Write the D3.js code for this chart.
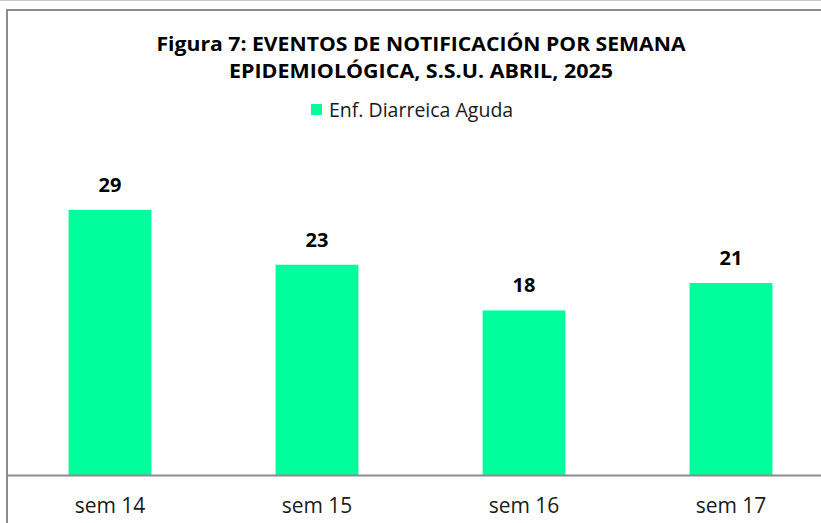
<!DOCTYPE html>
<html lang="es">
<head>
<meta charset="UTF-8">
<title>Figura 7</title>
<script src="https://d3js.org/d3.v7.min.js"></script>
<style>
  body { margin: 0; background: #fff; }
  svg { display: block; font-family: "Open Sans", Lato, sans-serif; }
</style>
</head>
<body>
<svg id="chart" width="821" height="523"></svg>
<script>
    const weeks = ["sem 14", "sem 15", "sem 16", "sem 17"];
    const cases = [29, 23, 18, 21];
    const seriesName = "Enf. Diarreica Aguda";
    const titleLines = ["Figura 7: EVENTOS DE NOTIFICACIÓN POR SEMANA", "EPIDEMIOLÓGICA, S.S.U. ABRIL, 2025"];

    const svg = d3.select("#chart");
    const barColor = "#00ff9c";

    // frame lines
    svg.append("line").attr("x1", 0).attr("x2", 821).attr("y1", 0.5).attr("y2", 0.5)
        .attr("stroke", "#c8c8c8").attr("stroke-width", 1);
    svg.append("path").attr("d", "M7,523V10H821")
        .attr("fill", "none").attr("stroke", "#8c8c8c").attr("stroke-width", 2);

    const x = d3.scaleBand().domain(weeks).range([6.5, 834.5])
        .paddingInner(0.6).paddingOuter(0.3);
    const y = d3.scaleLinear().domain([0, 35]).range([475, 155]);

    svg.selectAll("rect.bar")
        .data(cases)
        .join("rect")
        .attr("class", "bar")
        .attr("x", (d, i) => x(weeks[i]))
        .attr("width", x.bandwidth())
        .attr("y", d => y(d))
        .attr("height", d => y(0) - y(d))
        .attr("fill", barColor);

    svg.selectAll("text.val")
        .data(cases)
        .join("text")
        .attr("class", "val")
        .attr("x", (d, i) => x(weeks[i]) + x.bandwidth() / 2)
        .attr("y", d => y(d) - 18)
        .attr("text-anchor", "middle")
        .attr("font-size", 20)
        .attr("font-weight", "bold")
        .attr("fill", "#000")
        .text(d => d);

    // baseline + category labels
    const axis = svg.append("g").attr("transform", `translate(0,${y(0)})`)
        .call(d3.axisBottom(x).tickSize(0).tickPadding(0));
    axis.select(".domain").remove();
    svg.append("line").attr("x1", 7).attr("x2", 821).attr("y1", y(0) + 0.5).attr("y2", y(0) + 0.5)
        .attr("stroke", "#8c8c8c").attr("stroke-width", 2);
    axis.selectAll("text")
        .attr("y", 38)
        .attr("dy", 0)
        .attr("font-size", 21)
        .attr("font-family", "'Open Sans', sans-serif")
        .attr("fill", "#1a1a1a");

    // title
    const titleWidths = [529, 384];
    svg.append("g").selectAll("text")
        .data(titleLines)
        .join("text")
        .attr("x", 421)
        .attr("y", (d, i) => 51 + i * 27)
        .attr("text-anchor", "middle")
        .attr("font-size", 19)
        .attr("font-weight", "bold")
        .attr("fill", "#000")
        .attr("textLength", (d, i) => titleWidths[i])
        .attr("lengthAdjust", "spacingAndGlyphs")
        .text(d => d);

    // legend
    const legend = svg.append("g").attr("transform", "translate(311,104)");
    legend.append("rect").attr("width", 11).attr("height", 11).attr("fill", barColor);
    legend.append("text").attr("x", 18).attr("y", 12.5)
        .attr("font-size", 19.5).attr("fill", "#1a1a1a").text(seriesName);
</script>
</body>
</html>
